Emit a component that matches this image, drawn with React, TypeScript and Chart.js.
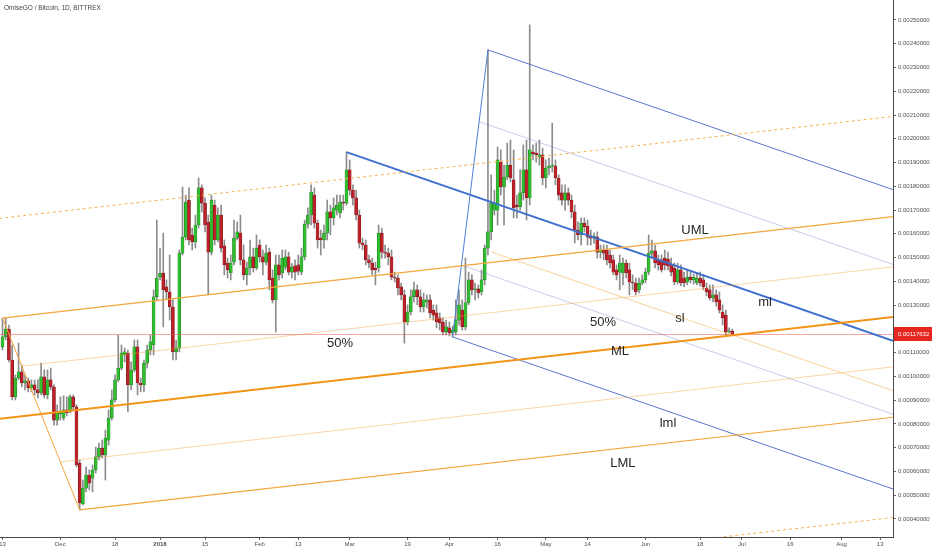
import React, { useEffect, useRef } from 'react';
import { Chart, registerables } from 'chart.js';

Chart.register(...registerables);

// Prices are in units of 0.00001 BTC (PRICE_UNIT); candle i is the daily bar i days after 2017-11-13.
const PRICE_UNIT = 1e-5;
const TITLE = 'OmiseGO / Bitcoin, 1D, BITTREX';

const openP = [
  112.4,116.6,119.9,106.9,91.4,99.3,101.9,97.2,98.1,95.1,
  96.4,94.3,93.0,99.8,92.2,98.5,95.6,81.6,84.2,82.5,
  85.9,85.1,91.4,87.2,63.5,46.3,53.0,58.5,57.2,
  60.6,66.1,69.8,66.9,73.2,82.5,90.1,98.5,103.5,109.0,
  109.8,96.4,102.7,112.4,97.2,96.4,105.6,111.1,113.2,133.5,
  141.8,143.5,137.7,135.5,129.2,110.3,111.9,151.9,158.6,174.2,
  159.5,156.6,163.7,179.3,172.9,164.9,152.3,172.1,157.4,167.9,
  154.9,147.7,143.5,148.1,158.2,160.3,149.0,142.7,145.6,150.3,
  145.6,155.3,150.3,148.1,152.3,141.4,132.2,146.9,143.5,146.0,
  150.3,143.9,146.5,146.9,143.9,150.3,164.1,167.9,176.3,164.5,158.2,
  157.4,160.3,169.2,166.7,170.0,168.8,173.4,172.9,186.9,178.4,
  175.1,167.9,156.1,155.3,149.0,147.7,145.6,145.6,160.3,152.3,
  151.9,150.3,141.8,141.4,137.7,134.3,122.9,127.1,133.5,136.4,
  133.5,129.2,131.3,132.2,127.9,126.7,124.6,122.9,118.7,120.4,
  118.3,118.7,123.7,127.9,120.8,130.9,140.6,136.4,136.8,
  135.5,140.6,154.0,160.8,170.0,170.0,190.2,179.7,183.9,
  188.9,182.7,172.1,171.3,177.2,186.9,175.1,194.4,194.0,192.3,
  193.2,183.5,187.7,188.5,188.5,183.5,177.2,174.2,177.2,174.2,
  169.2,161.6,159.5,164.5,163.3,159.1,158.2,158.6,152.3,153.2,153.2,
  151.1,149.0,144.8,143.9,143.5,147.7,144.8,139.7,139.3,136.4,
  139.3,140.6,143.9,151.9,152.8,149.0,149.0,149.8,149.4,146.9,
  145.6,139.7,144.8,141.4,139.7,141.8,140.6,139.3,141.4,140.6,137.2,
  136.4,133.0,134.3,132.2,127.1,125.8,118.7,119.1,
];

const highP = [
  124.5,124.5,121.6,113.2,100.6,114.0,104.8,100.6,99.3,98.5,
  98.5,98.5,105.6,102.7,102.7,103.5,96.4,88.0,91.4,91.8,
  91.4,92.2,92.2,88.0,64.8,56.4,61.9,60.6,62.7,
  70.3,71.9,73.2,77.4,85.9,94.3,100.6,117.4,113.2,111.9,
  111.1,106.1,115.3,115.3,99.3,106.9,113.2,117.4,136.4,165.8,
  154.0,160.3,140.6,151.1,132.2,115.3,153.2,179.7,176.3,179.3,
  162.4,167.9,183.5,180.6,175.1,167.9,176.3,174.2,170.9,172.1,
  157.4,149.8,151.1,165.8,165.0,167.9,155.3,148.1,157.4,154.0,
  159.5,157.4,153.2,155.3,154.0,144.8,151.1,151.1,153.2,153.2,
  152.3,147.5,149.0,151.1,154.0,165.8,170.9,180.6,179.3,165.8,161.6,
  163.7,174.2,172.1,175.1,176.3,176.3,176.3,194.4,191.1,180.6,
  178.4,170.0,158.2,157.4,151.1,149.8,148.1,163.7,162.4,155.3,
  154.0,153.2,143.9,142.7,139.3,136.4,130.1,136.4,139.7,138.5,
  136.4,135.1,134.3,134.3,130.1,130.1,126.7,124.6,123.7,122.9,
  121.2,132.2,136.4,132.2,149.8,143.9,142.7,139.3,138.5,
  144.8,155.3,237.4,184.8,178.4,196.5,195.3,188.9,198.2,
  199.5,195.3,176.3,186.9,197.4,199.5,247.9,197.4,198.2,199.5,
  196.1,191.1,191.9,206.6,191.1,184.8,180.6,180.6,179.3,176.3,
  172.1,165.0,166.7,166.7,165.8,161.6,160.4,160.8,155.3,155.3,155.3,
  153.2,151.1,146.9,151.1,149.8,149.0,147.7,142.7,141.4,141.4,
  142.7,145.6,159.5,157.4,155.3,151.1,151.1,153.2,152.3,149.8,
  147.7,147.7,146.9,143.9,144.8,143.9,143.0,143.5,143.9,142.7,139.3,
  138.5,138.5,136.4,135.5,130.1,127.9,120.4,119.9,
];

const lowP = [
  111.1,115.3,106.1,90.1,90.1,98.5,95.6,94.3,93.5,93.5,
  92.2,90.9,92.2,90.9,90.5,94.3,79.5,79.5,81.6,81.6,
  83.4,84.6,85.9,61.9,43.8,45.9,51.4,52.2,51.4,
  59.3,64.8,65.6,56.4,71.1,81.6,89.3,97.7,102.7,106.1,
  85.1,94.3,101.9,92.2,93.5,93.5,103.5,109.0,109.0,132.2,
  140.6,120.8,132.2,123.7,106.9,106.9,110.3,151.1,157.4,155.3,
  153.2,154.0,162.4,169.2,160.8,134.3,151.1,155.3,156.6,152.3,
  142.7,141.4,140.6,146.9,157.4,146.9,140.6,138.5,142.7,143.9,
  144.8,148.1,142.7,146.9,136.4,130.9,118.7,140.6,141.4,144.8,
  142.7,141.4,140.6,142.7,142.7,149.0,162.4,163.7,162.4,154.0,151.1,
  154.0,157.4,159.5,163.7,167.9,166.7,170.0,172.1,176.3,172.1,
  165.8,154.0,153.2,146.9,145.6,142.7,138.5,143.9,149.8,149.8,
  146.9,140.6,139.7,134.3,132.2,114.0,121.6,125.8,131.3,130.1,
  127.1,127.1,128.8,124.6,123.7,120.4,119.5,117.4,117.4,117.0,
  116.6,117.4,121.6,119.5,119.5,130.1,134.3,132.2,133.0,
  134.3,138.5,151.1,157.4,167.9,163.7,176.3,163.7,182.7,
  181.8,166.7,166.7,170.0,174.2,165.8,172.1,191.1,190.2,188.9,
  180.6,179.3,184.8,186.0,180.6,174.2,172.1,170.0,172.1,166.7,
  156.1,157.4,155.3,160.8,155.3,155.3,156.0,149.8,149.8,149.0,146.9,
  145.6,142.7,140.6,136.4,138.5,141.4,134.3,136.4,134.3,135.1,
  138.5,139.3,142.7,149.8,145.6,144.8,143.9,144.8,144.8,142.2,
  138.5,138.9,138.1,137.6,138.5,139.3,138.8,138.5,138.1,136.4,133.9,
  132.2,131.3,129.6,126.7,121.6,117.4,118.3,117.3,
];

const closeP = [
  116.6,119.9,106.9,91.4,99.3,101.9,97.2,98.1,95.1,96.4,
  94.3,93.0,99.8,92.2,98.5,95.6,81.6,85.1,85.1,85.9,
  84.6,91.4,87.2,62.7,46.7,53.0,58.5,55.1,60.6,
  66.1,69.8,66.9,74.0,82.5,90.1,98.5,103.5,109.8,110.3,
  96.4,102.7,112.4,97.2,96.4,105.6,111.1,114.5,133.5,141.4,
  143.5,136.4,135.5,129.2,110.3,111.9,151.9,158.6,173.4,157.4,
  156.6,163.7,179.3,172.9,163.7,152.3,174.2,157.4,167.9,154.0,
  146.9,144.8,147.7,158.2,160.8,149.0,142.7,145.6,150.3,145.6,
  154.0,150.3,148.1,151.9,140.6,132.2,146.9,142.7,149.8,150.3,
  143.9,146.0,143.9,144.3,150.3,164.1,167.9,177.6,164.5,157.4,157.4,
  160.3,169.2,166.7,170.9,172.1,173.4,172.9,186.9,178.4,175.1,
  167.9,156.1,155.3,149.0,147.7,144.8,144.8,160.3,152.3,151.9,
  150.3,141.8,141.4,137.2,134.3,122.9,127.1,133.5,136.4,133.5,
  129.2,132.2,132.2,126.7,125.8,122.9,122.5,118.7,120.8,118.3,
  119.5,123.7,130.1,120.8,130.9,140.6,136.4,136.8,135.1,
  140.6,154.0,160.8,172.9,172.9,191.1,179.7,183.9,188.9,
  183.5,170.9,171.3,177.2,186.9,175.1,195.3,193.6,193.2,193.2,
  183.5,187.7,188.5,188.9,183.5,176.3,174.2,177.2,174.2,169.2,
  161.6,159.5,164.5,162.9,158.6,158.2,158.9,152.3,153.2,151.9,149.0,
  147.7,143.9,142.7,147.7,147.7,143.5,139.7,139.3,135.5,139.3,
  140.6,143.9,151.9,152.8,147.7,146.9,144.8,146.9,146.5,143.9,
  139.7,144.8,139.3,139.3,141.8,140.6,141.8,141.4,139.3,137.6,135.5,
  133.0,134.3,131.3,127.9,124.6,118.7,119.1,117.632,
];

// x axis: days since 2017-11-13
const xTickDays = [0, 18, 35, 49, 63, 80, 92, 108, 126, 139, 154, 169, 182, 200, 217, 230, 245, 261, 273];
const xTickLabels = ['13', 'Dec', '18', '2018', '15', 'Feb', '13', 'Mar', '19', 'Apr', '16', 'May', '14', 'Jun', '18', 'Jul', '16', 'Aug', '13'];
const yTickValues = [40, 50, 60, 70, 80, 90, 100, 110, 120, 130, 140, 150, 160, 170, 180, 190, 200, 210, 220, 230, 240, 250];

// Pitchfork drawings: [day, price] end points
const orangeHandle = [[0, 124.5], [24, 43.8]];
const orangeUML = [[0, 124.5], [277, 167.2]];
const orangeML = [[-1, 82.1], [277, 125.0]];
const orangeLML = [[24, 43.8], [277, 82.8]];
const orangeUpperHalf = [[6, 104.3], [277, 146.1]];
const orangeLowerHalf = [[18, 64.0], [277, 104.0]];
const orangeUpperOuter = [[-1, 166.5], [277, 209.4]];
const orangeLowerOuter = [[24, 1.6], [277, 40.6]];
const orangeSlide = [[152, 152.4], [277, 94.0]];
const blueHandle = [[140, 116.6], [151, 237.4]];
const blueML = [[107, 194.4], [277, 115.0]];
const blueUpper = [[151, 237.4], [277, 178.6]];
const blueLower = [[140, 116.6], [277, 52.6]];
const blueUpperHalf = [[148.25, 207.2], [277, 147.1]];
const blueLowerHalf = [[142.75, 146.8], [277, 84.1]];

const chartLabels = [
  { text: 'UML', day: 215.4, price: 161.6 },
  { text: 'ML', day: 192.1, price: 110.3 },
  { text: 'LML', day: 193.0, price: 63.5 },
  { text: 'lml', day: 207.0, price: 80.4 },
  { text: 'sl', day: 210.7, price: 124.6 },
  { text: 'ml', day: 237.2, price: 131.3 },
  { text: '50%', day: 105.0, price: 114.0 },
  { text: '50%', day: 186.8, price: 122.9 },
];

const FONT = '"Liberation Sans", Arial, sans-serif';
const AXIS_TEXT = '#4f4f4f';

const fmtPrice = (v: number) => (v * PRICE_UNIT).toFixed(8);

export default function App() {
  const ref = useRef<HTMLCanvasElement>(null);

  useEffect(() => {
    document.body.style.margin = '0';
    const canvas = ref.current;
    if (!canvas) return;

    const days = closeP.map((_, i) => i);
    const lastClose = closeP[closeP.length - 1];
    const isUp = days.map((i) => closeP[i] >= openP[i]);

    const toPts = (arr: number[][]) => arr.map(([x, y]) => ({ x, y }));
    const lineDs = (pts: number[][], color: string, width: number, dash: number[] = [], order = 1) => ({
      type: 'line' as const,
      data: toPts(pts),
      borderColor: color,
      borderWidth: width,
      borderDash: dash,
      pointRadius: 0,
      pointHoverRadius: 0,
      fill: false,
      tension: 0,
      order,
    });

    const overlay = {
      id: 'overlay',
      afterDatasetsDraw(chart: any) {
        const { ctx, scales } = chart;
        const xs = scales.x;
        const ys = scales.y;
        ctx.save();
        ctx.font = `13px ${FONT}`;
        ctx.fillStyle = '#262626';
        ctx.textAlign = 'center';
        ctx.textBaseline = 'middle';
        chartLabels.forEach((l) => {
          ctx.fillText(l.text, xs.getPixelForValue(l.day), ys.getPixelForValue(l.price));
        });
        ctx.restore();
      },
      afterDraw(chart: any) {
        const { ctx, scales, chartArea } = chart;
        const ys = scales.y;
        const py = Math.round(ys.getPixelForValue(lastClose));
        ctx.save();
        ctx.fillStyle = '#e8251f';
        ctx.fillRect(chartArea.right + 1, py - 7, chart.width - chartArea.right - 1, 14);
        ctx.fillStyle = '#ffffff';
        ctx.font = `6px ${FONT}`;
        ctx.textAlign = 'left';
        ctx.textBaseline = 'middle';
        ctx.fillText(fmtPrice(lastClose), chartArea.right + 5, py);
        ctx.fillStyle = '#444444';
        ctx.font = `6.5px ${FONT}`;
        ctx.fillText(TITLE, 4, 8);
        ctx.restore();
      },
    };

    const chart = new Chart(canvas, {
      type: 'line',
      data: {
        datasets: [
          lineDs(orangeUpperOuter, '#f6b24f', 1, [3, 3]),
          lineDs(orangeLowerOuter, '#f6b24f', 1, [3, 3]),
          lineDs(orangeUpperHalf, 'rgba(245,165,60,0.45)', 1),
          lineDs(orangeLowerHalf, 'rgba(245,165,60,0.45)', 1),
          lineDs(orangeSlide, 'rgba(245,165,60,0.5)', 1),
          lineDs(orangeHandle, '#f5a53a', 1),
          lineDs(orangeUML, '#f5a53a', 1.2),
          lineDs(orangeLML, '#f5a53a', 1.2),
          lineDs(orangeML, '#f39419', 2),
          lineDs(blueUpperHalf, 'rgba(90,115,200,0.35)', 1),
          lineDs(blueLowerHalf, 'rgba(90,115,200,0.35)', 1),
          lineDs(blueHandle, '#4f7fd8', 1),
          lineDs(blueUpper, '#5a78c9', 1),
          lineDs(blueLower, '#5a78c9', 1),
          lineDs(blueML, '#3f70d0', 2),
          lineDs([[-1, lastClose], [280, lastClose]], 'rgba(236,90,90,0.55)', 1, [], 2),
          {
            type: 'bar' as const,
            data: days.map((i) => ({ x: i, y: [lowP[i], highP[i]] })) as any,
            backgroundColor: '#8c8c8c',
            barThickness: 1,
            grouped: false,
            minBarLength: 1,
            order: 20,
          },
          {
            type: 'bar' as const,
            data: days.map((i) => ({ x: i, y: [openP[i], closeP[i]] })) as any,
            backgroundColor: days.map((i) => (isUp[i] ? '#2fbf2f' : '#bd2129')),
            borderColor: days.map((i) => (isUp[i] ? '#1c6e1c' : '#741318')),
            borderWidth: 0.5,
            borderSkipped: false,
            barThickness: 3,
            grouped: false,
            minBarLength: 1,
            order: 10,
          },
        ] as any,
      },
      options: {
        responsive: false,
        maintainAspectRatio: false,
        animation: false,
        devicePixelRatio: 1,
        layout: { padding: 0 },
        plugins: {
          legend: { display: false },
          tooltip: { enabled: false },
          title: { display: false },
        },
        events: [],
        scales: {
          x: {
            type: 'linear',
            position: 'bottom',
            min: -0.78,
            max: 277,
            offset: false,
            grid: { display: true, drawOnChartArea: false, drawTicks: true, tickLength: 3, color: '#666666', offset: false },
            border: { display: true, color: '#4a4a4a', width: 1 },
            ticks: {
              autoSkip: false,
              maxRotation: 0,
              padding: 1,
              color: AXIS_TEXT,
              font: (c: any) => ({ family: FONT, size: 6, weight: c.tick && c.tick.value === 49 ? 'bold' : 'normal' }),
              callback: (_v: any, i: number) => xTickLabels[i],
            },
            afterBuildTicks: (s: any) => {
              s.ticks = xTickDays.map((v) => ({ value: v }));
            },
            afterFit: (s: any) => {
              s.height = 13;
              s.paddingLeft = 0;
              s.paddingRight = 0;
            },
          },
          y: {
            type: 'linear',
            position: 'right',
            min: 32.4,
            max: 258.4,
            grid: { display: true, drawOnChartArea: false, drawTicks: true, tickLength: 3, color: '#666666' },
            border: { display: true, color: '#4a4a4a', width: 1 },
            ticks: {
              padding: 2,
              color: AXIS_TEXT,
              font: { family: FONT, size: 6 },
              callback: (v: any) => fmtPrice(Number(v)),
            },
            afterBuildTicks: (s: any) => {
              s.ticks = yTickValues.map((v) => ({ value: v }));
            },
            afterFit: (s: any) => {
              s.width = 39;
              s.paddingTop = 0;
              s.paddingBottom = 0;
            },
          },
        },
      } as any,
      plugins: [overlay],
    });

    return () => chart.destroy();
  }, []);

  return (
    <div style={{ width: 932, height: 550, background: '#ffffff' }}>
      <canvas ref={ref} width={932} height={550} style={{ display: 'block' }} />
    </div>
  );
}
